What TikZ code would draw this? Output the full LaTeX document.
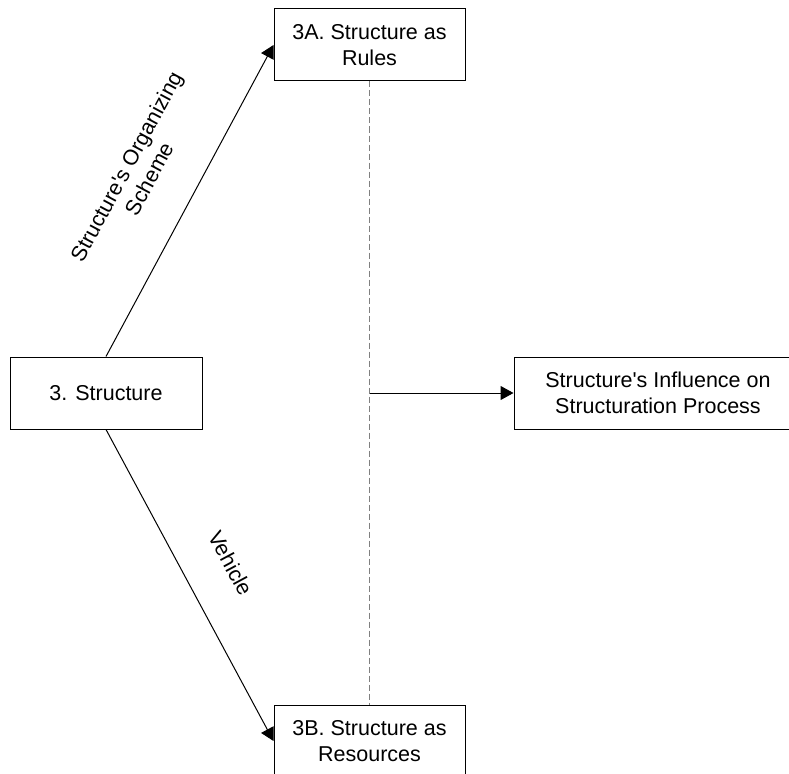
\documentclass[tikz,border=0pt]{standalone}
\usepackage{fontspec}
\setmainfont{Liberation Sans}
\usetikzlibrary{arrows.meta}
\begin{document}
\begin{tikzpicture}[x=1pt,y=-1pt,
  txt/.style={font=\fontsize{21.5}{26}\selectfont},
  box/.style={txt, draw=black, line width=1pt, fill=white, minimum height=72pt,
    align=center, inner sep=0pt},
  link/.style={line width=1pt, -{Triangle[length=13pt,width=14pt]}},
  lbl/.style={txt, align=center, inner sep=0pt, sloped},
  guide/.style={draw=gray, line width=1.5pt, dash pattern=on 6pt off 3pt}]
\useasboundingbox (0,0) rectangle (789,773);

% boxes
\node[box, minimum width=192pt] (S) at (106,393) {3. Structure};
\node[box, minimum width=191pt] (A) at (369.5,45) {3A. Structure as\\Rules};
\node[box, minimum width=191pt] (B) at (369.5,741) {3B. Structure as\\Resources};
\node[box, minimum width=288pt] (R) at (658,393)
  {Structure\textquotesingle s Influence on\\Structuration Process};

% dashed guide between the two aspects, and the influence arrow leaving it
\draw[guide] (A.south) -- (B.north);
\coordinate (J) at (A.south |- R.west);
\draw[link] (J) -- (R.west);

% the two aspects of structure
\draw[link] (S.north) -- node[lbl, midway, above=38pt]
  {Structure\textquotesingle s Organizing\\Scheme} (A.west);
\draw[link] (S.south) -- node[lbl, midway, above=38pt] {Vehicle} (B.west);
\end{tikzpicture}
\end{document}
